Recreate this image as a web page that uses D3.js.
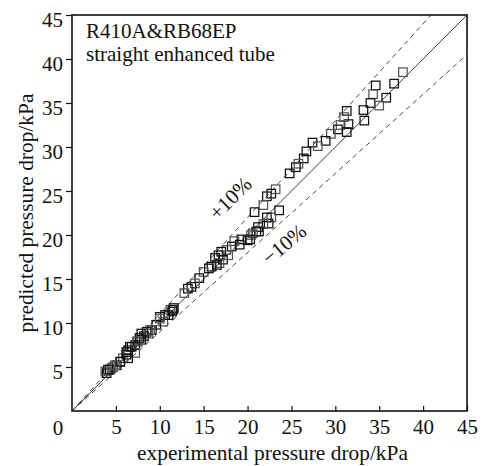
<!DOCTYPE html>
<html>
<head>
<meta charset="utf-8">
<script src="https://cdn.jsdelivr.net/npm/d3@7"></script>
<style>
  body { margin: 0; background: #fff; }
  text { font-family: "Liberation Serif", "Times New Roman", serif; fill: #111; }
</style>
</head>
<body>
<div id="chart"></div>
<script>
// measured points: experimental (x) vs predicted (y), kPa
var expDrop = [37.7, 36.7, 34.6, 34.3, 35.8, 34.0, 35.0, 33.2, 31.3, 31.0, 33.3, 31.5, 30.6, 30.3, 31.3,
    29.5, 28.9, 27.4, 28.0, 26.7, 26.4, 25.8, 25.5, 24.8, 23.2, 22.7, 22.2, 21.8, 20.8, 23.6,
    22.7, 22.2, 22.4, 21.8, 21.2, 21.3, 20.6, 20.3, 21.0, 20.4, 20.0, 19.3, 18.5, 19.1, 18.2,
    17.6, 17.0, 16.7, 17.8, 16.3, 17.2, 16.8, 16.5, 15.9, 15.0, 15.6, 14.5, 14.0, 13.6, 13.2,
    12.8, 11.6, 11.4, 11.2, 10.6, 10.0, 10.4, 9.6, 9.1, 8.7, 8.2, 7.9, 7.5, 7.2, 6.8,
    7.2, 6.4, 6.2, 5.8, 5.5, 5.1, 4.7, 4.3, 3.95, 3.8, 6.4, 7.9, 8.9, 8.5, 7.7,
    7.4, 6.6, 6.2, 4.5, 4.1, 5.5, 4.9, 11.0, 11.5, 10.0];
var predDrop = [38.5, 37.2, 37.0, 36.0, 35.6, 35.0, 34.7, 34.2, 34.1, 33.4, 33.0, 32.6, 32.5, 32.0, 31.7,
    31.5, 30.7, 30.5, 30.1, 29.5, 28.7, 28.1, 27.7, 27.0, 25.2, 24.7, 24.4, 23.4, 22.6, 22.8,
    22.0, 22.0, 21.3, 21.25, 20.9, 20.4, 20.2, 19.5, 20.4, 20.0, 19.4, 19.5, 19.3, 18.9, 18.7,
    18.3, 18.1, 17.7, 17.7, 17.4, 17.2, 16.8, 16.6, 16.4, 15.8, 16.2, 15.1, 14.5, 14.1, 13.9,
    13.4, 11.7, 11.3, 11.5, 10.9, 10.7, 10.15, 9.8, 9.2, 8.8, 8.5, 8.1, 7.9, 7.5, 7.3,
    6.6, 6.9, 6.4, 6.0, 5.6, 5.2, 5.0, 4.7, 4.3, 4.5, 6.0, 8.8, 9.2, 9.0, 8.3,
    7.9, 7.3, 6.7, 4.85, 4.7, 5.6, 5.2, 10.9, 11.5, 10.5];
var tickVals = [5, 10, 15, 20, 25, 30, 35, 40, 45];
var bandFactors = [1.1, 0.9];
var bandLabels = ["+10%", "\u221210%"];
var titleLines = ["R410A&RB68EP", "straight enhanced tube"];

var width = 485, height = 466;
var margin = {left: 72, right: 18, top: 15, bottom: 55};

var svg = d3.select("#chart").append("svg")
    .attr("width", width)
    .attr("height", height);

var x = d3.scaleLinear().domain([0, 45]).range([margin.left, width - margin.right]);
var y = d3.scaleLinear().domain([0, 45]).range([height - margin.bottom, margin.top]);

// reference lines
var lineGen = d3.line().x(function(d){ return x(d[0]); }).y(function(d){ return y(d[1]); });
svg.append("path")
    .attr("d", lineGen([[0, 0], [45, 45]]))
    .attr("stroke", "#222").attr("stroke-width", 0.9).attr("fill", "none");

bandFactors.forEach(function(f){
    var xEnd = Math.min(45, 45 / f);
    svg.append("path")
        .attr("d", lineGen([[0, 0], [xEnd, xEnd * f]]))
        .attr("stroke", "#333").attr("stroke-width", 0.9)
        .attr("stroke-dasharray", "5,4").attr("fill", "none");
});

// points
var pts = expDrop.map(function(v, i){ return [v, predDrop[i]]; });
svg.append("g").selectAll("rect")
    .data(pts)
    .enter()
    .append("rect")
    .attr("x", function(d){ return x(d[0]) - 4.25; })
    .attr("y", function(d){ return y(d[1]) - 4.25; })
    .attr("width", 8.5).attr("height", 8.5)
    .attr("fill", "none")
    .attr("stroke", function(d, i){ return i % 3 == 0 ? "#555" : "#111"; })
    .attr("stroke-width", 1.25);

// axes
var xAxis = svg.append("g")
    .attr("transform", "translate(0," + y(0) + ")")
    .call(d3.axisBottom(x).tickValues(tickVals).tickSizeInner(-5).tickSizeOuter(0).tickPadding(8));
var yAxis = svg.append("g")
    .attr("transform", "translate(" + x(0) + ",0)")
    .call(d3.axisLeft(y).tickValues(tickVals).tickSizeInner(6).tickSizeOuter(0).tickPadding(3));

[xAxis, yAxis].forEach(function(ax){
    ax.select(".domain").remove();
    ax.selectAll("line").attr("stroke", "#111").attr("stroke-width", 1.2);
    ax.selectAll("text").style("font-size", "21px").attr("fill", "#111")
        .style("font-family", "'Liberation Serif', serif");
});
yAxis.selectAll("text").attr("dy", "0.55em");

svg.append("text")
    .attr("x", 58).attr("y", y(0) + 24)
    .attr("text-anchor", "middle")
    .style("font-size", "21px")
    .text("0");

// frame
svg.append("rect")
    .attr("x", x(0)).attr("y", y(45))
    .attr("width", x(45) - x(0)).attr("height", y(0) - y(45))
    .attr("fill", "none").attr("stroke", "#111").attr("stroke-width", 1.6);

// labels
svg.append("text")
    .attr("x", (x(0) + x(45)) / 2 + 3).attr("y", 460)
    .attr("text-anchor", "middle")
    .style("font-size", "21.4px")
    .text("experimental pressure drop/kPa");

svg.append("text")
    .attr("transform", "translate(33," + ((y(0) + y(45)) / 2) + ") rotate(-90)")
    .attr("text-anchor", "middle")
    .style("font-size", "21.4px")
    .text("predicted pressure drop/kPa");

svg.selectAll(".title")
    .data(titleLines)
    .enter()
    .append("text")
    .attr("class", "title")
    .attr("x", 86)
    .attr("y", function(d, i){ return 38 + i * 23; })
    .style("font-size", "21px")
    .text(function(d){ return d; });

var bandPos = [[230, 198, -45], [284, 244, -40]];
svg.selectAll(".band")
    .data(bandLabels)
    .enter()
    .append("text")
    .attr("class", "band")
    .attr("text-anchor", "middle")
    .attr("dy", "0.35em")
    .attr("transform", function(d, i){ var p = bandPos[i]; return "translate(" + p[0] + "," + p[1] + ") rotate(" + p[2] + ")"; })
    .style("font-size", "21px")
    .text(function(d){ return d; });
</script>
</body>
</html>
